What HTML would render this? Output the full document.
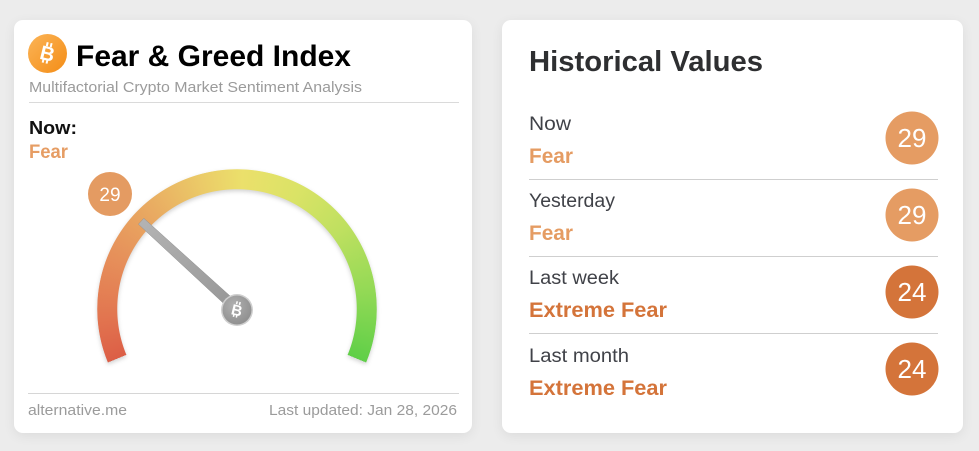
<!DOCTYPE html>
<html>
<head>
<meta charset="utf-8">
<style>
  html, body { margin:0; padding:0; }
  body { width:979px; height:451px; background:#ececec; position:relative; overflow:hidden; font-family:"Liberation Sans", sans-serif; }
  .card { position:absolute; background:#fff; border-radius:9px; box-shadow:0 3px 12px rgba(0,0,0,0.07); }
  .gauge {
    position:absolute; left:97px; top:169px; width:280px; height:280px; border-radius:50%;
    background: conic-gradient(from 247.5deg,
      #dc5e46 0deg, #e27650 20deg, #e68f5a 45deg, #e9ab62 72deg, #ebcc68 98deg,
      #ebe06b 115deg, #dae366 140deg, #bfe060 165deg, #92d955 195deg, #5fcf48 225deg,
      transparent 225deg, transparent 360deg);
    -webkit-mask-image: radial-gradient(circle closest-side, transparent 119.5px, #000 120px, #000 139.5px, transparent 140px);
    mask-image: radial-gradient(circle closest-side, transparent 119.5px, #000 120px, #000 139.5px, transparent 140px);
  }
  .gshadow { position:absolute; left:97px; top:169px; width:280px; height:280px; filter: drop-shadow(0 2px 2px rgba(0,0,0,0.18)); }
  svg.over { position:absolute; left:0; top:0; }
</style>
</head>
<body>
<div class="card" style="left:14px; top:20px; width:458px; height:413px;"></div>
<div class="card" style="left:502px; top:20px; width:461px; height:413px;"></div>

<div class="gshadow"><div class="gauge" style="left:0;top:0;"></div></div>

<svg class="over" width="979" height="451" viewBox="0 0 979 451" xmlns="http://www.w3.org/2000/svg">
  <defs>
    <linearGradient id="btc" x1="0" y1="0" x2="1" y2="1">
      <stop offset="0" stop-color="#fbb457"/>
      <stop offset="1" stop-color="#f48d16"/>
    </linearGradient>
    <linearGradient id="ndl" x1="0" y1="0" x2="1" y2="1">
      <stop offset="0" stop-color="#b4b4b4"/>
      <stop offset="1" stop-color="#959595"/>
    </linearGradient>
    <radialGradient id="knob" cx="0.4" cy="0.35" r="0.7">
      <stop offset="0" stop-color="#b0b0b0"/>
      <stop offset="1" stop-color="#8e8e8e"/>
    </radialGradient>
  </defs>

  <!-- Left card header -->
  <circle cx="47.5" cy="53.5" r="19.5" fill="url(#btc)"/>
  <g transform="translate(47.5,53.5) rotate(14)">
    <text x="0" y="7" text-anchor="middle" font-family="Liberation Sans, sans-serif" font-weight="bold" font-size="20" fill="#fff">B</text>
    <rect x="-3.5" y="-11" width="2" height="4" fill="#fff"/>
    <rect x="0.5" y="-11" width="2" height="4" fill="#fff"/>
    <rect x="-3.5" y="6" width="2" height="4" fill="#fff"/>
    <rect x="0.5" y="6" width="2" height="4" fill="#fff"/>
  </g>
  <text x="76" y="66" font-family="Liberation Sans, sans-serif" font-weight="bold" font-size="30" fill="#000" textLength="275" lengthAdjust="spacingAndGlyphs">Fear &amp; Greed Index</text>
  <text x="29" y="92" font-family="Liberation Sans, sans-serif" font-size="15" fill="#9b9b9b" textLength="333" lengthAdjust="spacingAndGlyphs">Multifactorial Crypto Market Sentiment Analysis</text>
  <rect x="29" y="102" width="430" height="1" fill="#dadada"/>
  <text x="29" y="134" font-family="Liberation Sans, sans-serif" font-weight="bold" font-size="18" fill="#111" textLength="48" lengthAdjust="spacingAndGlyphs">Now:</text>
  <text x="29" y="158" font-family="Liberation Sans, sans-serif" font-weight="bold" font-size="19" fill="#e69d64" textLength="39" lengthAdjust="spacingAndGlyphs">Fear</text>

  <!-- value bubble -->
  <circle cx="110" cy="194" r="22" fill="#e49b62"/>
  <text x="110" y="201" text-anchor="middle" font-family="Liberation Sans, sans-serif" font-size="19" fill="#fff">29</text>

  <!-- needle -->
  <polygon points="240.4,305.3 233.6,312.7 138.4,224.2 143.8,218.3" fill="url(#ndl)" stroke="#8f8f8f" stroke-width="0.5"/>
  <circle cx="237" cy="310" r="16" fill="#cfcfcf"/>
  <circle cx="237" cy="310" r="14.5" fill="url(#knob)"/>
  <g transform="translate(237,310) rotate(14)">
    <text x="0" y="5.5" text-anchor="middle" font-family="Liberation Sans, sans-serif" font-weight="bold" font-size="15" fill="#fff">B</text>
    <rect x="-2.6" y="-8.5" width="1.5" height="3" fill="#fff"/>
    <rect x="0.4" y="-8.5" width="1.5" height="3" fill="#fff"/>
    <rect x="-2.6" y="4.5" width="1.5" height="3" fill="#fff"/>
    <rect x="0.4" y="4.5" width="1.5" height="3" fill="#fff"/>
  </g>

  <!-- footer -->
  <rect x="28" y="393" width="431" height="1" fill="#d6d6d6"/>
  <text x="28" y="415" font-family="Liberation Sans, sans-serif" font-size="15" fill="#9b9b9b" textLength="99" lengthAdjust="spacingAndGlyphs">alternative.me</text>
  <text x="269" y="415" font-family="Liberation Sans, sans-serif" font-size="15" fill="#9b9b9b" textLength="188" lengthAdjust="spacingAndGlyphs">Last updated: Jan 28, 2026</text>

  <!-- Right card -->
  <text x="529" y="71" font-family="Liberation Sans, sans-serif" font-weight="bold" font-size="29" fill="#2e2f31" textLength="234" lengthAdjust="spacingAndGlyphs">Historical Values</text>

  <!-- row 1 -->
  <text x="529" y="130" font-family="Liberation Sans, sans-serif" font-size="19" fill="#404248" textLength="42" lengthAdjust="spacingAndGlyphs">Now</text>
  <text x="529" y="163" font-family="Liberation Sans, sans-serif" font-weight="bold" font-size="21" fill="#e59c63" textLength="44" lengthAdjust="spacingAndGlyphs">Fear</text>
  <circle cx="912" cy="138" r="26.5" fill="#e59c63"/>
  <text x="912" y="147" text-anchor="middle" font-family="Liberation Sans, sans-serif" font-size="26" fill="#fff">29</text>
  <rect x="529" y="179" width="409" height="1" fill="#cfcfcf"/>

  <!-- row 2 -->
  <text x="529" y="207" font-family="Liberation Sans, sans-serif" font-size="19" fill="#404248" textLength="86" lengthAdjust="spacingAndGlyphs">Yesterday</text>
  <text x="529" y="240" font-family="Liberation Sans, sans-serif" font-weight="bold" font-size="21" fill="#e59c63" textLength="44" lengthAdjust="spacingAndGlyphs">Fear</text>
  <circle cx="912" cy="215" r="26.5" fill="#e59c63"/>
  <text x="912" y="224" text-anchor="middle" font-family="Liberation Sans, sans-serif" font-size="26" fill="#fff">29</text>
  <rect x="529" y="256" width="409" height="1" fill="#cfcfcf"/>

  <!-- row 3 -->
  <text x="529" y="284" font-family="Liberation Sans, sans-serif" font-size="19" fill="#404248" textLength="90" lengthAdjust="spacingAndGlyphs">Last week</text>
  <text x="529" y="317" font-family="Liberation Sans, sans-serif" font-weight="bold" font-size="21" fill="#d4743a" textLength="138" lengthAdjust="spacingAndGlyphs">Extreme Fear</text>
  <circle cx="912" cy="292" r="26.5" fill="#d4743a"/>
  <text x="912" y="301" text-anchor="middle" font-family="Liberation Sans, sans-serif" font-size="26" fill="#fff">24</text>
  <rect x="529" y="333" width="409" height="1" fill="#cfcfcf"/>

  <!-- row 4 -->
  <text x="529" y="362" font-family="Liberation Sans, sans-serif" font-size="19" fill="#404248" textLength="100" lengthAdjust="spacingAndGlyphs">Last month</text>
  <text x="529" y="395" font-family="Liberation Sans, sans-serif" font-weight="bold" font-size="21" fill="#d4743a" textLength="138" lengthAdjust="spacingAndGlyphs">Extreme Fear</text>
  <circle cx="912" cy="369" r="26.5" fill="#d4743a"/>
  <text x="912" y="378" text-anchor="middle" font-family="Liberation Sans, sans-serif" font-size="26" fill="#fff">24</text>
</svg>
</body>
</html>
